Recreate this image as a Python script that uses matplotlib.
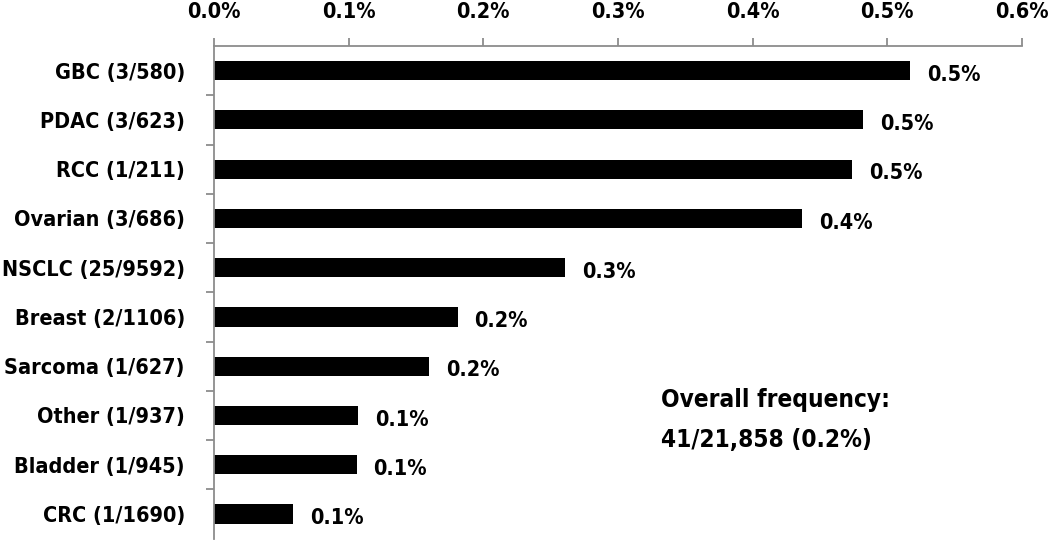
import matplotlib
matplotlib.use("Agg")
import matplotlib.pyplot as plt
from matplotlib.ticker import FuncFormatter, FixedLocator

categories = ["GBC (3/580)", "PDAC (3/623)", "RCC (1/211)", "Ovarian (3/686)",
              "NSCLC (25/9592)", "Breast (2/1106)", "Sarcoma (1/627)",
              "Other (1/937)", "Bladder (1/945)", "CRC (1/1690)"]
values = [0.517, 0.482, 0.474, 0.437, 0.261, 0.181, 0.160, 0.107, 0.106, 0.059]
value_labels = ["0.5%", "0.5%", "0.5%", "0.4%", "0.3%", "0.2%", "0.2%", "0.1%", "0.1%", "0.1%"]
xticks = [0.0, 0.1, 0.2, 0.3, 0.4, 0.5, 0.6]
note = "Overall frequency:\n41/21,858 (0.2%)"

plt.rcParams['font.family'] = ['DejaVu Sans']
plt.rcParams['font.weight'] = 'bold'
plt.rcParams['font.stretch'] = 'condensed'

fig = plt.figure(figsize=(10.5, 5.41), dpi=100)
ax = fig.add_axes([0.2038, 0.0044, 0.9733 - 0.2038, 0.915 - 0.0044])

y = list(range(len(categories)))
ax.barh(y, values, height=0.39, color='black')
ax.set_ylim(len(categories) - 0.5, -0.5)
ax.set_xlim(0, 0.6)

gray = '#8c8c8c'
for s in ['right', 'bottom']:
    ax.spines[s].set_visible(False)
for s in ['top', 'left']:
    ax.spines[s].set_color(gray)
    ax.spines[s].set_linewidth(1.3)

ax.xaxis.tick_top()
ax.set_xticks(xticks)
ax.xaxis.set_major_formatter(FuncFormatter(lambda v, p: f"{v:.1f}%"))
ax.tick_params(axis='x', direction='out', length=6, width=1.3, color=gray,
               labelsize=15.5, pad=11)

ax.set_yticks(y)
ax.set_yticklabels(categories)
ax.yaxis.set_minor_locator(FixedLocator([i + 0.5 for i in range(len(categories) - 1)]))
ax.tick_params(axis='y', which='major', length=0, labelsize=15.5, pad=21)
ax.tick_params(axis='y', which='minor', direction='out', length=6, width=1.3, color=gray)

for yi, v, lab in zip(y, values, value_labels):
    ax.annotate(lab, (v, yi), xytext=(12, -3), textcoords='offset points',
                ha='left', va='center', fontsize=15.5, fontweight='bold')

ax.text(0.332, 7.09, note, ha='left', va='center', fontsize=17.5, fontweight='bold',
        linespacing=1.85)

fig.savefig("out.png", dpi=100)
